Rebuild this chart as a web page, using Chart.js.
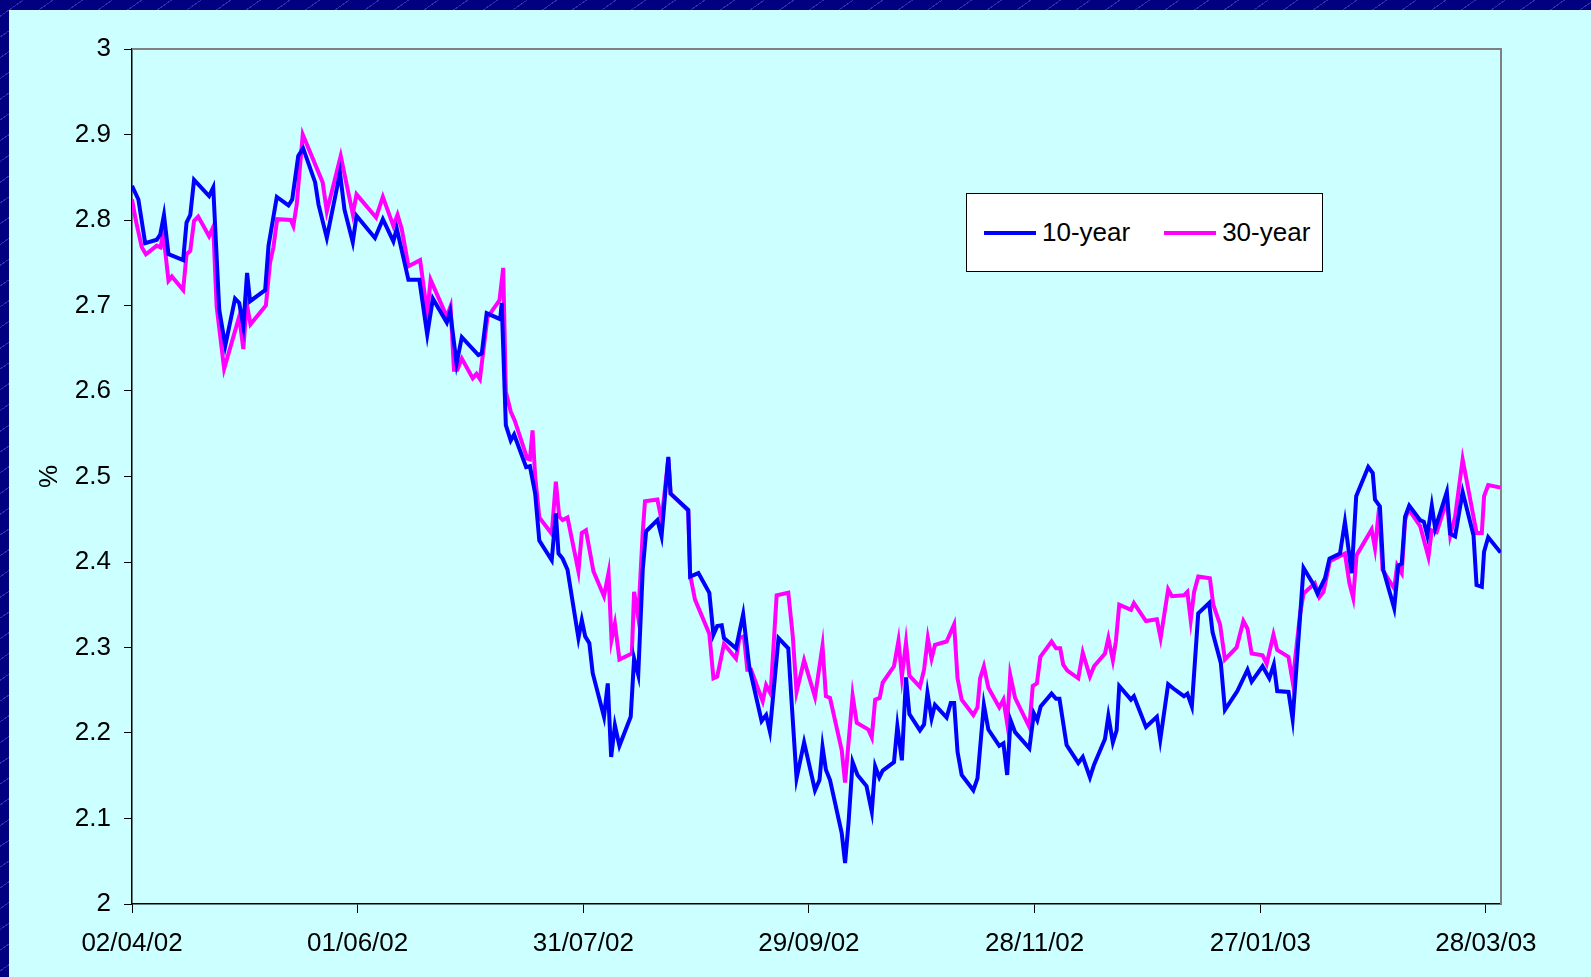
<!DOCTYPE html>
<html>
<head>
<meta charset="utf-8">
<script src="https://cdn.jsdelivr.net/npm/chart.js@4.4.1/dist/chart.umd.min.js"></script>
<style>
html, body { margin: 0; padding: 0; }
body {
    width: 1591px; height: 977px; overflow: hidden; position: relative;
    background: #000080 repeating-linear-gradient(-35deg, #000080 0 16px, #3030a8 16px 17px);
    font-family: 'Liberation Sans', Arial, sans-serif;
}
#frame { position: absolute; left: 9px; top: 10px; width: 1582px; height: 967px; background: #ccffff; }
#legend {
    position: absolute; left: 957px; top: 183px; width: 357px; height: 79px;
    background: #fff; border: 1px solid #000; box-sizing: border-box;
    display: flex; align-items: center; padding-left: 17px;
    font-size: 26px; color: #000; white-space: nowrap;
}
#legend .item { display: flex; align-items: center; flex-shrink: 0; margin-right: 34px; }
#legend .line { display: inline-block; width: 52px; height: 4px; margin-right: 6px; }
</style>
</head>
<body>
<div id="frame">
    <canvas id="yieldChart" width="1582" height="967"></canvas>
    <div id="legend"></div>
</div>
<script>
// days counted from 02/04/02
var days10 = [
    0, 1.7, 3.5, 6.6, 7.5, 8.5, 9.7, 13.6, 14.5, 15.5,
    16.5, 20.5, 21.6, 23.2, 24.8, 27.4, 28.5, 29.6, 30.6, 31.4,
    35.4, 36.3, 38.5, 41.6, 42.6, 44.2, 45.5, 48.7, 49.6, 51.8,
    55.3, 56.5, 58.7, 59.7, 64.6, 66.7, 69.5, 70.4, 73.5, 76.4,
    78.5, 80.0, 83.7, 84.6, 86.3, 87.7, 92.1, 93.0, 94.3, 97.9,
    98.3, 99.4, 100.7, 101.6, 104.8, 105.8, 107.2, 108.3, 111.6, 112.7,
    113.4, 114.5, 115.8, 118.7, 119.6, 120.5, 121.6, 122.5, 125.5, 126.5,
    127.4, 128.4, 129.6, 132.6, 133.5, 134.6, 135.8, 136.7, 139.7, 140.8,
    142.6, 143.2, 147.9, 148.4, 150.6, 153.5, 154.6, 155.6, 156.8, 157.4,
    160.6, 162.5, 164.1, 167.4, 168.6, 169.6, 171.9, 174.5, 175.4, 176.7,
    178.7, 181.6, 182.8, 183.6, 184.5, 185.6, 188.7, 189.6, 190.5, 191.6,
    192.9, 195.3, 196.7, 197.6, 198.7, 199.6, 202.6, 203.5, 204.7, 205.8,
    206.7, 209.5, 210.6, 211.5, 212.6, 213.5, 216.6, 217.7, 218.6, 219.5,
    220.6, 223.7, 224.8, 226.5, 227.7, 230.6, 231.7, 232.7, 233.6, 234.8,
    238.6, 239.8, 240.7, 241.6, 244.5, 245.7, 246.6, 248.5, 251.6, 252.8,
    254.7, 255.8, 258.7, 259.6, 260.8, 261.8, 262.5, 265.6, 266.4, 269.6,
    272.5, 273.4, 275.5, 276.9, 279.7, 280.6, 281.8, 283.5, 286.4, 287.3,
    289.5, 290.6, 293.9, 296.6, 297.7, 300.6, 302.4, 303.6, 304.5, 307.5,
    308.6, 309.5, 311.5, 314.1, 315.2, 317.2, 318.4, 321.2, 322.5, 324.3,
    325.5, 328.7, 329.9, 330.5, 331.8, 332.7, 335.6, 336.7, 337.6, 338.5,
    339.6, 342.5, 343.5, 344.4, 345.6, 346.5, 349.6, 350.5, 351.8, 353.8,
    356.7, 357.5, 358.9, 359.5, 360.6, 363.9
];
var yield10 = [
    2.840, 2.824, 2.773, 2.777, 2.783, 2.806, 2.760, 2.753, 2.797, 2.806,
    2.847, 2.828, 2.838, 2.695, 2.653, 2.708, 2.703, 2.676, 2.738, 2.705,
    2.718, 2.770, 2.827, 2.817, 2.824, 2.875, 2.884, 2.844, 2.818, 2.779,
    2.855, 2.812, 2.774, 2.805, 2.779, 2.801, 2.775, 2.790, 2.730, 2.730,
    2.666, 2.708, 2.680, 2.693, 2.632, 2.663, 2.642, 2.644, 2.691, 2.684,
    2.703, 2.560, 2.542, 2.549, 2.511, 2.512, 2.480, 2.425, 2.402, 2.457,
    2.410, 2.404, 2.391, 2.311, 2.332, 2.313, 2.305, 2.270, 2.219, 2.258,
    2.172, 2.209, 2.185, 2.219, 2.287, 2.268, 2.391, 2.436, 2.449, 2.430,
    2.523, 2.480, 2.461, 2.383, 2.387, 2.364, 2.315, 2.325, 2.326, 2.311,
    2.299, 2.339, 2.278, 2.214, 2.221, 2.202, 2.311, 2.299, 2.235, 2.147,
    2.189, 2.133, 2.145, 2.184, 2.157, 2.145, 2.083, 2.048, 2.094, 2.166,
    2.151, 2.138, 2.108, 2.161, 2.148, 2.156, 2.166, 2.208, 2.168, 2.265,
    2.222, 2.203, 2.210, 2.247, 2.217, 2.233, 2.218, 2.235, 2.235, 2.178,
    2.151, 2.133, 2.147, 2.233, 2.204, 2.185, 2.188, 2.151, 2.215, 2.201,
    2.182, 2.223, 2.215, 2.231, 2.246, 2.240, 2.240, 2.186, 2.165, 2.172,
    2.148, 2.163, 2.193, 2.220, 2.189, 2.203, 2.255, 2.239, 2.243, 2.207,
    2.219, 2.192, 2.257, 2.252, 2.243, 2.246, 2.231, 2.340, 2.352, 2.318,
    2.282, 2.227, 2.249, 2.274, 2.260, 2.278, 2.264, 2.280, 2.249, 2.248,
    2.216, 2.270, 2.393, 2.374, 2.363, 2.381, 2.404, 2.410, 2.447, 2.387,
    2.477, 2.511, 2.504, 2.473, 2.465, 2.391, 2.346, 2.396, 2.398, 2.453,
    2.466, 2.449, 2.447, 2.431, 2.466, 2.439, 2.482, 2.433, 2.430, 2.482,
    2.431, 2.373, 2.371, 2.412, 2.429, 2.411
];

var days30 = [
    0, 1.0, 2.6, 3.7, 6.6, 7.6, 8.3, 9.7, 10.6, 13.6,
    14.5, 15.5, 16.5, 17.6, 20.5, 21.6, 22.5, 24.5, 28.5, 29.6,
    30.5, 31.5, 35.6, 36.7, 37.6, 38.6, 42.2, 42.9, 43.8, 45.4,
    50.7, 51.8, 55.5, 58.7, 59.7, 64.9, 66.7, 69.5, 70.6, 71.7,
    73.5, 76.6, 78.5, 79.4, 83.7, 84.7, 85.6, 86.5, 87.7, 90.6,
    91.6, 92.5, 94.5, 97.7, 98.7, 99.4, 100.7, 101.8, 105.1, 105.8,
    106.5, 107.2, 108.3, 111.6, 112.7, 113.6, 114.5, 115.8, 118.7, 119.6,
    120.7, 122.7, 125.5, 126.7, 127.5, 128.4, 129.6, 132.9, 133.5, 134.6,
    135.8, 136.4, 139.7, 140.8, 142.6, 143.2, 147.9, 148.4, 149.7, 153.5,
    154.6, 155.6, 157.4, 160.6, 161.5, 162.7, 163.6, 164.6, 167.7, 168.6,
    169.8, 171.4, 174.5, 175.7, 176.7, 178.7, 181.6, 183.6, 184.5, 185.6,
    188.7, 189.6, 191.6, 192.7, 195.8, 196.7, 197.6, 198.8, 199.6, 202.6,
    203.8, 204.7, 205.8, 206.7, 209.5, 210.6, 211.6, 212.6, 213.5, 216.6,
    218.6, 219.5, 220.6, 223.7, 224.8, 225.5, 226.5, 227.7, 230.6, 231.7,
    232.7, 233.5, 234.8, 238.6, 239.5, 240.6, 241.5, 244.5, 245.7, 246.8,
    247.6, 248.7, 251.6, 252.8, 254.7, 255.8, 258.7, 259.6, 260.8, 261.6,
    262.5, 265.6, 266.4, 269.6, 272.5, 273.5, 275.5, 276.5, 279.7, 280.6,
    281.5, 282.4, 283.5, 286.6, 287.5, 289.3, 290.6, 293.7, 295.5, 296.6,
    297.7, 300.6, 301.7, 303.5, 304.5, 307.5, 308.6, 310.6, 311.5, 314.5,
    315.7, 316.8, 318.5, 322.5, 323.7, 324.7, 325.6, 329.6, 330.5, 331.6,
    332.5, 335.6, 336.4, 337.6, 338.5, 339.4, 342.5, 344.7, 345.6, 346.9,
    349.6, 350.5, 351.8, 353.8, 357.5, 358.9, 359.5, 360.6, 363.9
];
var yield30 = [
    2.824, 2.800, 2.768, 2.760, 2.770, 2.768, 2.785, 2.729, 2.734, 2.718,
    2.760, 2.764, 2.799, 2.804, 2.781, 2.792, 2.699, 2.626, 2.687, 2.649,
    2.703, 2.678, 2.700, 2.750, 2.768, 2.801, 2.800, 2.793, 2.818, 2.900,
    2.844, 2.810, 2.875, 2.807, 2.830, 2.803, 2.827, 2.793, 2.806, 2.790,
    2.746, 2.753, 2.691, 2.730, 2.687, 2.699, 2.625, 2.625, 2.638, 2.615,
    2.620, 2.614, 2.686, 2.706, 2.744, 2.599, 2.576, 2.565, 2.521, 2.520,
    2.554, 2.500, 2.452, 2.433, 2.494, 2.453, 2.449, 2.452, 2.389, 2.434,
    2.437, 2.389, 2.360, 2.387, 2.309, 2.328, 2.286, 2.293, 2.365, 2.335,
    2.435, 2.471, 2.473, 2.449, 2.521, 2.480, 2.460, 2.385, 2.356, 2.316,
    2.264, 2.266, 2.304, 2.287, 2.311, 2.313, 2.274, 2.274, 2.237, 2.256,
    2.246, 2.361, 2.364, 2.313, 2.248, 2.285, 2.242, 2.302, 2.243, 2.241,
    2.180, 2.142, 2.244, 2.212, 2.204, 2.195, 2.239, 2.241, 2.259, 2.278,
    2.308, 2.266, 2.306, 2.267, 2.254, 2.274, 2.311, 2.287, 2.303, 2.307,
    2.327, 2.264, 2.239, 2.221, 2.230, 2.264, 2.278, 2.253, 2.230, 2.239,
    2.211, 2.268, 2.241, 2.207, 2.255, 2.258, 2.289, 2.307, 2.299, 2.299,
    2.280, 2.273, 2.264, 2.294, 2.266, 2.278, 2.293, 2.311, 2.285, 2.307,
    2.350, 2.344, 2.352, 2.331, 2.333, 2.311, 2.368, 2.360, 2.361, 2.365,
    2.332, 2.365, 2.383, 2.381, 2.350, 2.327, 2.286, 2.300, 2.331, 2.322,
    2.293, 2.291, 2.281, 2.315, 2.297, 2.289, 2.260, 2.340, 2.363, 2.375,
    2.359, 2.365, 2.401, 2.410, 2.375, 2.358, 2.408, 2.438, 2.416, 2.464,
    2.391, 2.369, 2.396, 2.387, 2.449, 2.462, 2.442, 2.406, 2.437, 2.435,
    2.472, 2.431, 2.453, 2.520, 2.434, 2.434, 2.477, 2.490, 2.487
];

var tickDays = [0, 60, 120, 180, 240, 300, 360];
var tickLabels = ['02/04/02', '01/06/02', '31/07/02', '29/09/02', '28/11/02', '27/01/03', '28/03/03'];

var FONT = { family: "'Liberation Sans', Arial, sans-serif", size: 26 };

function toPoints(xs, ys) {
    return xs.map(function (d, i) { return { x: d, y: ys[i] }; });
}

// grey top and right edge of the plot area
var plotFrame = {
    id: 'plotFrame',
    beforeDatasetsDraw: function (chart) {
        var a = chart.chartArea, ctx = chart.ctx;
        ctx.save();
        ctx.strokeStyle = '#808080';
        ctx.lineWidth = 2;
        ctx.beginPath();
        ctx.moveTo(a.left, a.top);
        ctx.lineTo(a.right, a.top);
        ctx.lineTo(a.right, a.bottom);
        ctx.stroke();
        ctx.restore();
    }
};

var ctx = document.getElementById('yieldChart').getContext('2d');
var chart = new Chart(ctx, {
    type: 'line',
    data: {
        datasets: [{
            label: '10-year',
            data: toPoints(days10, yield10),
            borderColor: '#0000ff',
            borderWidth: 4,
            pointRadius: 0,
            tension: 0
        }, {
            label: '30-year',
            data: toPoints(days30, yield30),
            borderColor: '#ff00ff',
            borderWidth: 4,
            pointRadius: 0,
            tension: 0
        }]
    },
    options: {
        responsive: false,
        animation: false,
        layout: { padding: { left: 0, top: 39, right: 90, bottom: 0 } },
        plugins: {
            legend: { display: false },
            tooltip: { enabled: false }
        },
        scales: {
            x: {
                type: 'linear',
                min: 0,
                max: 364,
                afterBuildTicks: function (scale) {
                    scale.ticks = tickDays.map(function (d) { return { value: d }; });
                },
                afterFit: function (scale) { scale.height = 73; },
                border: { display: true, color: '#000', width: 1.5 },
                grid: { drawOnChartArea: false, drawTicks: true, tickLength: 9, color: '#000' },
                ticks: {
                    autoSkip: false,
                    maxRotation: 0,
                    padding: 15,
                    color: '#000',
                    font: FONT,
                    callback: function (v) { return tickLabels[tickDays.indexOf(v)]; }
                }
            },
            y: {
                min: 2,
                max: 3,
                afterFit: function (scale) { scale.width = 123; },
                border: { display: true, color: '#000', width: 1.5 },
                grid: { drawOnChartArea: false, drawTicks: true, tickLength: 8, color: '#000' },
                title: { display: true, text: '%', color: '#000', font: FONT, padding: { top: 25, bottom: 0 } },
                ticks: {
                    stepSize: 0.1,
                    padding: 13,
                    color: '#000',
                    font: FONT,
                    callback: function (v) { return String(Math.round(v * 10) / 10); }
                }
            }
        }
    },
    plugins: [plotFrame]
});

// legend box built from the datasets
var legend = document.getElementById('legend');
chart.data.datasets.forEach(function (ds) {
    var item = document.createElement('span');
    item.className = 'item';
    var line = document.createElement('span');
    line.className = 'line';
    line.style.background = ds.borderColor;
    item.appendChild(line);
    item.appendChild(document.createTextNode(ds.label));
    legend.appendChild(item);
});
</script>
</body>
</html>
